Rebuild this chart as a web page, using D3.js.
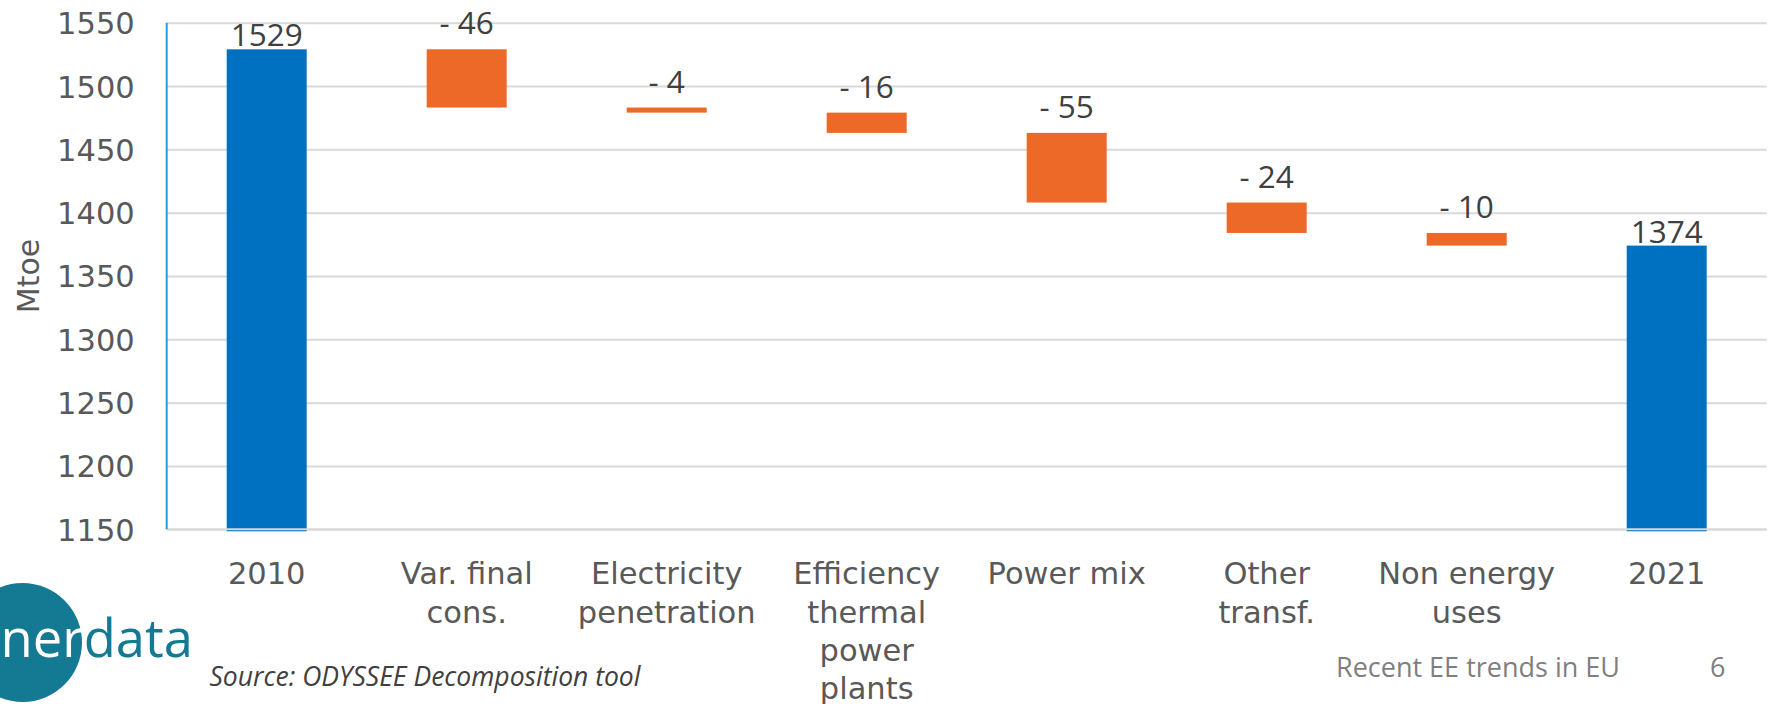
<!DOCTYPE html>
<html>
<head>
<meta charset="utf-8">
<script src="https://cdn.jsdelivr.net/npm/d3@7"></script>
<style>
    body { margin: 0; background: #fff; }
    svg { display: block; }
    .axis text { font-family: "DejaVu Sans", Verdana, sans-serif; font-size: 30.5px; fill: #595959; }
    .label { font-family: "Open Sans", sans-serif; font-size: 31.5px; fill: #404040; text-anchor: middle; }
</style>
</head>
<body>
<div id="chart"></div>
<script>
// categories (line breaks as in the original axis)
const categories = ["2010", "Var. final\ncons.", "Electricity\npenetration", "Efficiency\nthermal\npower\nplants",
    "Power mix", "Other\ntransf.", "Non energy\nuses", "2021"];
const values = [1529, -46, -4, -16, -55, -24, -10, 1374];
const isTotal = [true, false, false, false, false, false, false, true];
const yTicks = [1150, 1200, 1250, 1300, 1350, 1400, 1450, 1500, 1550];
const yDomain = [1150, 1550];

class WaterfallDiagram {
    constructor(parent) {
        let obj = this;
        this.fullWidth = 1768;
        this.fullHeight = 704;
        this.margin = {top: 22.7, right: 1.3, bottom: 174.7, left: 166.7};
        this.width = this.fullWidth - this.margin.left - this.margin.right;
        this.height = this.fullHeight - this.margin.top - this.margin.bottom;

        this.xScale = d3.scaleBand().domain(categories).range([0, this.width])
            .paddingInner(0.6).paddingOuter(0.3);
        this.yScale = d3.scaleLinear().domain(yDomain).range([this.height, 0]);

        this.svg = parent.append("svg")
            .attr("width", this.fullWidth)
            .attr("height", this.fullHeight);

        this.g = this.svg.append("g")
            .attr("transform", "translate(" + this.margin.left + "," + this.margin.top + ")");

        // build waterfall steps
        let running = 0;
        this.data = categories.map(function(c, i) {
            let d = {cat: c, value: values[i], total: isTotal[i]};
            if (d.total) {
                d.y0 = yDomain[0];
                d.y1 = d.value;
                running = d.value;
            } else {
                d.y0 = running;
                d.y1 = running + d.value;
                running = d.y1;
            }
            return d;
        });

        this.drawAxes();
        this.drawBars();
        this.drawExtras();
    }

    drawAxes() {
        let obj = this;
        // y axis with gridlines
        let yAxis = this.g.append("g")
            .attr("class", "axis axis--y")
            .call(d3.axisLeft(this.yScale).tickValues(yTicks).tickFormat(d3.format("d"))
                .tickSize(-this.width).tickPadding(32));
        yAxis.select(".domain").remove();
        yAxis.selectAll(".tick line").attr("stroke", "#d9d9d9").attr("stroke-width", 2);
        yAxis.selectAll(".tick text").attr("dy", "0.36em");

        this.g.append("text")
            .attr("transform", "translate(" + (39 - this.margin.left) + "," + (276 - this.margin.top) + ") rotate(-90)")
            .style("text-anchor", "middle")
            .style("font-family", "'DejaVu Sans', Verdana, sans-serif")
            .style("font-size", "30px")
            .style("fill", "#595959")
            .text("Mtoe");

        // x axis
        let xAxis = this.g.append("g")
            .attr("class", "axis axis--x")
            .attr("transform", "translate(0," + this.height + ")")
            .call(d3.axisBottom(this.xScale).tickSize(0));
        xAxis.select(".domain").remove();
        xAxis.selectAll(".tick text").each(function(d) {
            let t = d3.select(this).text(null).attr("y", 0).attr("dy", null);
            d.split("\n").forEach(function(line, i) {
                t.append("tspan").attr("x", 0).attr("y", 55 + i * 38.3).text(line);
            });
        });
    }

    drawBars() {
        let obj = this;
        let bars = this.g.append("g").attr("class", "bars");
        bars.selectAll("rect").data(this.data).enter().append("rect")
            .attr("x", function(d) { return obj.xScale(d.cat); })
            .attr("width", this.xScale.bandwidth())
            .attr("y", function(d) { return obj.yScale(Math.max(d.y0, d.y1)); })
            .attr("height", function(d) {
                let h = Math.abs(obj.yScale(d.y0) - obj.yScale(d.y1));
                return d.total ? h + 2 : h;
            })
            .attr("fill", function(d) { return d.total ? "#0070c0" : "#ed6927"; });

        // baseline drawn over the bars
        this.g.append("line")
            .attr("x1", 0).attr("x2", this.width)
            .attr("y1", this.yScale(yDomain[0])).attr("y2", this.yScale(yDomain[0]))
            .attr("stroke", "#d9d9d9").attr("stroke-width", 2);

        // blue vertical axis line
        this.g.append("line")
            .attr("x1", 0).attr("x2", 0)
            .attr("y1", 0).attr("y2", this.height)
            .attr("stroke", "#1ea3d6").attr("stroke-width", 2);

        // data labels
        this.g.append("g").selectAll("text").data(this.data).enter().append("text")
            .attr("class", "label")
            .attr("x", function(d) { return obj.xScale(d.cat) + obj.xScale.bandwidth() / 2; })
            .attr("y", function(d) { return obj.yScale(Math.max(d.y0, d.y1)) - (d.total ? 3 : 15); })
            .text(function(d) { return d.total ? d.value : "- " + Math.abs(d.value); });
    }

    drawExtras() {
        // logo
        this.svg.append("circle").attr("cx", 22.5).attr("cy", 642.5).attr("r", 59.5).attr("fill", "#147a93");
        let logo = this.svg.append("text")
            .attr("x", 0.5).attr("y", 656.7)
            .style("font-family", "'Open Sans', sans-serif")
            .style("font-size", "52.5px");
        logo.append("tspan").attr("fill", "#ffffff").text("ner");
        logo.append("tspan").attr("fill", "#147a93").text("data");

        this.svg.append("text")
            .attr("x", 209.5).attr("y", 685.7)
            .style("font-family", "'Open Sans', sans-serif")
            .style("font-style", "italic")
            .style("font-size", "26.5px")
            .style("fill", "#404040")
            .text("Source: ODYSSEE Decomposition tool");

        this.svg.append("text")
            .attr("x", 1336).attr("y", 676.7)
            .style("font-family", "'Open Sans', sans-serif")
            .style("font-size", "27px")
            .style("fill", "#7f7f7f")
            .text("Recent EE trends in EU");

        this.svg.append("text")
            .attr("x", 1710).attr("y", 676.7)
            .style("font-family", "'Open Sans', sans-serif")
            .style("font-size", "27px")
            .style("fill", "#7f7f7f")
            .text("6");
    }
}

let diagram = new WaterfallDiagram(d3.select("#chart"));
</script>
</body>
</html>
